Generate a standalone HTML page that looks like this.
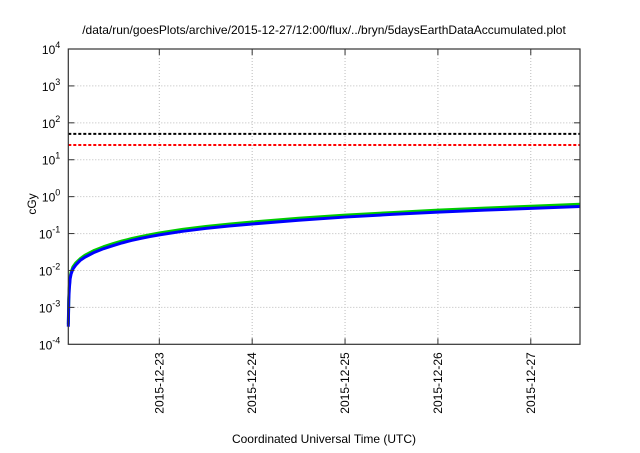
<!DOCTYPE html>
<html><head><meta charset="utf-8"><style>
body{margin:0;background:#fff;font-family:"Liberation Sans",sans-serif}
</style></head><body>
<svg width="640" height="448" viewBox="0 0 640 448" font-family="Liberation Sans, sans-serif">
<rect width="640" height="448" fill="#fff"/>
<text x="324" y="34" text-anchor="middle" font-size="12">/data/run/goesPlots/archive/2015-12-27/12:00/flux/../bryn/5daysEarthDataAccumulated.plot</text>
<g id="grid"></g>
<g id="series"></g>
<rect x="68.3" y="49" width="511.7" height="295.3" fill="none" stroke="#333" stroke-width="1.2"/>
<g id="axes"></g>
<text transform="translate(36,204) rotate(-90)" text-anchor="middle" font-size="12">cGy</text>
<text x="324" y="443" text-anchor="middle" font-size="12">Coordinated Universal Time (UTC)</text>
</svg>
<script>
const xTicks=[23,24,25,26,27];
const xTickLabels=["2015-12-23","2015-12-24","2015-12-25","2015-12-26","2015-12-27"];
const yTicks=[-4,-3,-2,-1,0,1,2,3,4];
const times=[22.02,22.025,22.03,22.04,22.05,22.07,22.1,22.15,22.2,22.3,22.4,22.5,22.6,22.7,22.8,22.9,23,23.25,23.5,23.75,24,24.5,25,25.5,26,26.5,27,27.53];
const blueVals=[0.0003,0.0015,0.003,0.006,0.008,0.011,0.014,0.019,0.023,0.031,0.039,0.047,0.056,0.065,0.074,0.083,0.092,0.115,0.138,0.16,0.182,0.23,0.28,0.33,0.38,0.43,0.48,0.54];
const greenVals=[0.00035,0.0017,0.0034,0.0068,0.009,0.0125,0.016,0.021,0.026,0.035,0.044,0.053,0.063,0.073,0.083,0.093,0.104,0.13,0.155,0.18,0.205,0.26,0.315,0.37,0.43,0.49,0.55,0.62];
const refBlack=50, refRed=25;
const X0=68.3,X1=580,Y0=344.3,Y1=49,D0=22.02,D1=27.53;
const xs=d=>X0+(d-D0)/(D1-D0)*(X1-X0);
const ys=v=>Y0-(Math.log10(v)+4)/8*(Y0-Y1);
const NS="http://www.w3.org/2000/svg";
function mk(t,a,p){const e=document.createElementNS(NS,t);for(const k in a)e.setAttribute(k,a[k]);p.appendChild(e);return e;}
const grid=document.getElementById('grid'),axes=document.getElementById('axes'),ser=document.getElementById('series');
yTicks.forEach(p=>{const y=ys(Math.pow(10,p));
 if(p>-4&&p<4){const g=mk('line',{x1:X0,x2:X1,y1:y,y2:y,stroke:'#bbb','stroke-dasharray':'1,2','stroke-width':1},grid);
 
 mk('line',{x1:X0,x2:X0+6,y1:y,y2:y,stroke:'#333'},axes);mk('line',{x1:X1-6,x2:X1,y1:y,y2:y,stroke:'#333'},axes);}
 const t=mk('text',{x:X0-8,y:y+5,'text-anchor':'end','font-size':12},axes);
 
 t.textContent='10';const s=mk('tspan',{dy:-6,'font-size':9},t);s.textContent=String(p);});
xTicks.forEach((d,i)=>{const x=xs(d);
 const g=mk('line',{x1:x,x2:x,y1:Y1,y2:Y0,stroke:'#bbb','stroke-dasharray':'1,2'},grid);
 
 mk('line',{x1:x,x2:x,y1:Y0-6,y2:Y0,stroke:'#333'},axes);mk('line',{x1:x,x2:x,y1:Y1,y2:Y1+6,stroke:'#333'},axes);
 const t=mk('text',{transform:`translate(${x+4},${Y0+8}) rotate(-90)`,'text-anchor':'end','font-size':12},axes);
 t.textContent=xTickLabels[i];});
[[refBlack,'#000','black-threshold-line'],[refRed,'#f00','red-threshold-line']].forEach(([v,c,n])=>{
 const l=mk('line',{x1:X0,x2:X1,y1:ys(v),y2:ys(v),stroke:c,'stroke-width':2,'stroke-dasharray':'3,2'},ser);
 });
[[greenVals,'#0c0','green-series'],[blueVals,'#00f','blue-series']].forEach(([vals,c,n])=>{
 const d=times.map((t,i)=>(i?'L':'M')+xs(t).toFixed(2)+','+ys(vals[i]).toFixed(2)).join('');
 const p=mk('path',{d:d,fill:'none',stroke:c,'stroke-width':3,'stroke-linejoin':'round'},ser);
 });
</script>
</body></html>
